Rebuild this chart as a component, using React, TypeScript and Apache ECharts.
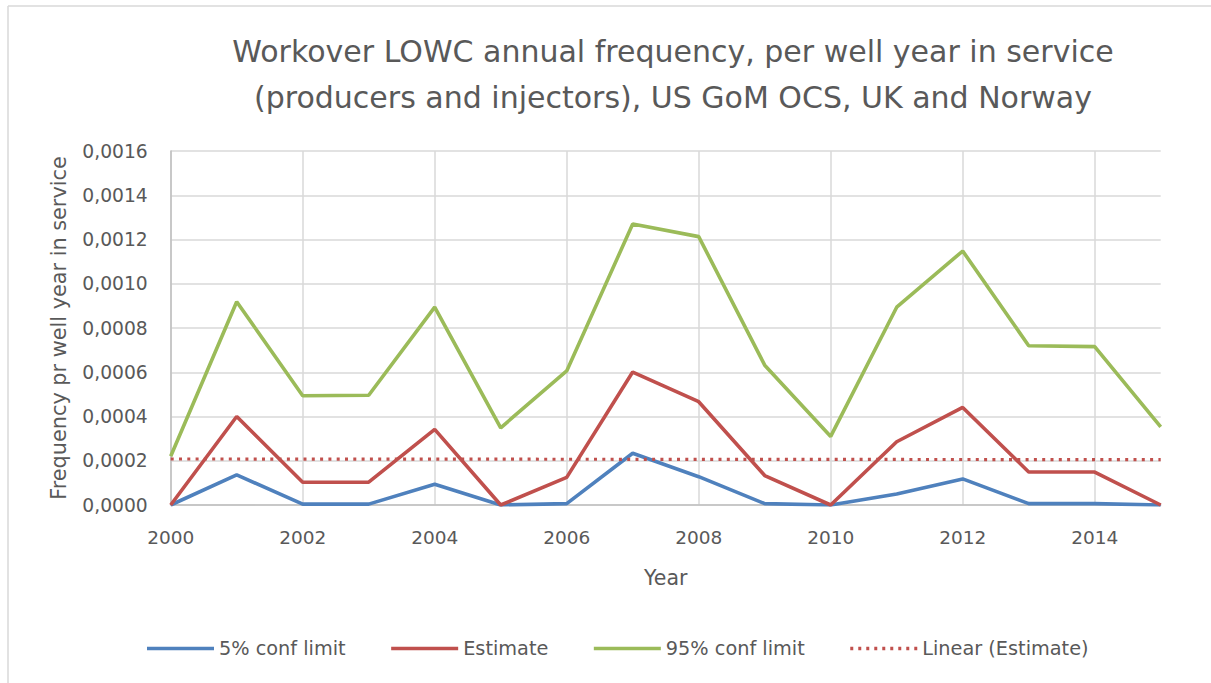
import React, { useEffect, useRef } from "react";
import * as echarts from "echarts";

const years = [2000, 2001, 2002, 2003, 2004, 2005, 2006, 2007, 2008, 2009, 2010, 2011, 2012, 2013, 2014, 2015];
const lower5 = [0, 0.000136, 0.000004, 0.000004, 0.000094, 0, 0.000006, 0.000234, 0.000128, 0.000006, 0, 0.00005, 0.000118, 0.000006, 0.000006, 0];
const estimate = [0, 0.0004, 0.000103, 0.000103, 0.000342, 0, 0.000125, 0.000601, 0.000467, 0.000133, 0, 0.000286, 0.000441, 0.000149, 0.000149, 0];
const upper95 = [0.00022, 0.000919, 0.000494, 0.000496, 0.000894, 0.000349, 0.000606, 0.00127, 0.001213, 0.000632, 0.00031, 0.000894, 0.001148, 0.00072, 0.000716, 0.000353];
const trendYears = [2000, 2015];
const trendValues = [0.000208, 0.000205];
const seriesNames = ["5% conf limit", "Estimate", "95% conf limit", "Linear (Estimate)"];
const seriesColors = ["#4f81bd", "#c0504d", "#9bbb59", "#c0504d"];
const titleLines = [
  "Workover LOWC annual frequency, per well year in service",
  "(producers and injectors), US GoM OCS, UK and Norway",
];
const xAxisName = "Year";
const yAxisName = "Frequency pr well year in service";

const FONT = "DejaVu Sans";
const TEXT = "#595959";

// dotted legend icon: 9 square dots over a 67 x 3.5 box
const dottedIcon =
  "path://" +
  Array.from({ length: 9 }, (_, i) => `M${i * 8},0h3v3.5h-3z`).join(" ");

export default function App() {
  const ref = useRef<HTMLDivElement>(null);
  useEffect(() => {
    if (!ref.current) return;
    const chart = echarts.init(ref.current, undefined, { renderer: "svg" });
    const pair = (vals: number[]) => years.map((y, i) => [y, vals[i]]);
    chart.setOption({
      animation: false,
      backgroundColor: "#ffffff",
      textStyle: { fontFamily: FONT, color: TEXT },
      title: {
        text: titleLines.join("\n"),
        left: 668,
        top: 23,
        textAlign: "center",
        textStyle: { fontFamily: FONT, fontSize: 30, fontWeight: "normal", color: TEXT, lineHeight: 46 },
      },
      grid: { left: 170.7, right: 50.3, top: 151, bottom: 178, containLabel: false },
      legend: {
        top: 634,
        left: 142,
        itemWidth: 67,
        itemHeight: 3.5,
        itemGap: 45.5,
        symbolKeepAspect: false,
        textStyle: { fontFamily: FONT, fontSize: 19.3, color: TEXT },
        data: [
          { name: seriesNames[0], icon: "rect" },
          { name: seriesNames[1], icon: "rect" },
          { name: seriesNames[2], icon: "rect" },
          { name: seriesNames[3], icon: dottedIcon },
        ],
      },
      xAxis: {
        type: "value",
        min: 2000,
        max: 2015,
        interval: 2,
        name: xAxisName,
        nameLocation: "middle",
        nameGap: 62,
        nameTextStyle: { fontFamily: FONT, fontSize: 20.5, color: TEXT },
        axisLine: { show: true, lineStyle: { color: "#bfbfbf", width: 1.5 } },
        axisTick: { show: false },
        axisLabel: { showMaxLabel: false, margin: 23, fontFamily: FONT, fontSize: 18.5, color: TEXT, formatter: (v: number) => String(v) },
        splitLine: { show: true, showMaxLine: false, lineStyle: { color: "#d9d9d9", width: 1.5 } },
      },
      yAxis: {
        type: "value",
        min: 0,
        max: 0.0016,
        interval: 0.0002,
        name: yAxisName,
        nameLocation: "middle",
        nameGap: 101,
        nameTextStyle: { fontFamily: FONT, fontSize: 20.8, color: TEXT },
        axisLine: { show: true, lineStyle: { color: "#bfbfbf", width: 1.5 } },
        axisTick: { show: false },
        axisLabel: { margin: 23, fontFamily: FONT, fontSize: 18.7, color: TEXT, formatter: (v: number) => v.toFixed(4).replace(".", ",") },
        splitLine: { show: true, lineStyle: { color: "#d9d9d9", width: 1.5 } },
      },
      graphic: [
        { type: "line", shape: { x1: 8, y1: 6, x2: 1211, y2: 6 }, style: { stroke: "#d9d9d9", lineWidth: 1.5 } },
        { type: "line", shape: { x1: 8, y1: 6, x2: 8, y2: 683 }, style: { stroke: "#d9d9d9", lineWidth: 1.5 } },
      ],
      series: [
        { name: seriesNames[0], type: "line", data: pair(lower5), symbol: "none", lineStyle: { color: seriesColors[0], width: 3.6 }, itemStyle: { color: seriesColors[0] } },
        { name: seriesNames[1], type: "line", data: pair(estimate), symbol: "none", lineStyle: { color: seriesColors[1], width: 3.6 }, itemStyle: { color: seriesColors[1] } },
        { name: seriesNames[2], type: "line", data: pair(upper95), symbol: "none", lineStyle: { color: seriesColors[2], width: 3.6 }, itemStyle: { color: seriesColors[2] } },
        {
          name: seriesNames[3],
          type: "line",
          data: trendYears.map((y, i) => [y, trendValues[i]]),
          symbol: "none",
          lineStyle: { color: seriesColors[3], width: 3.2, type: [3, 5.3] },
          itemStyle: { color: seriesColors[3] },
        },
      ],
    });
    return () => chart.dispose();
  }, []);
  return <div ref={ref} style={{ position: "fixed", left: 0, top: 0, width: 1211, height: 683 }} />;
}
